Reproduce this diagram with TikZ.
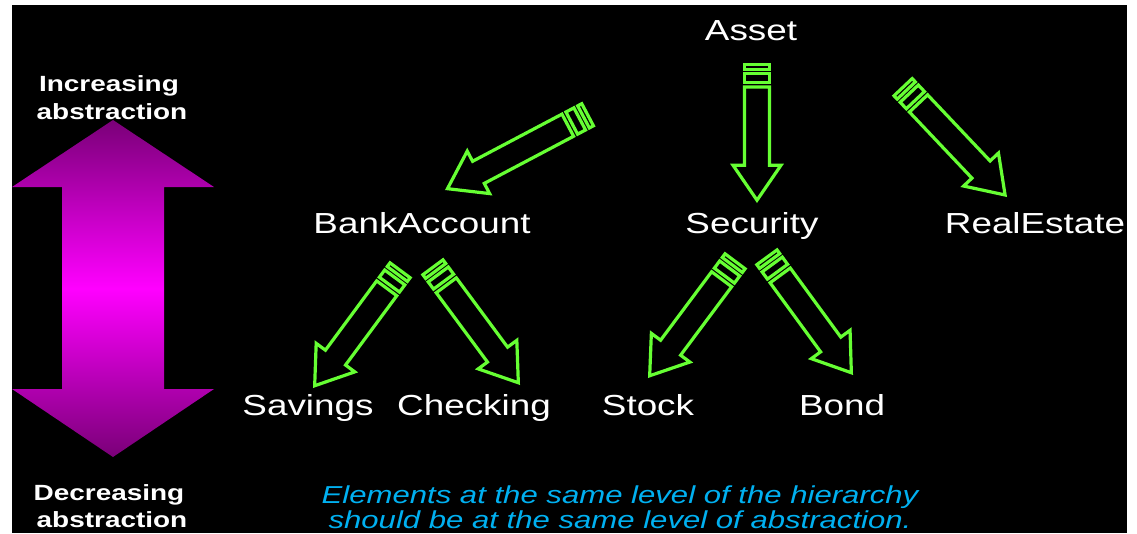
\documentclass[tikz,border=0pt]{standalone}
\usepackage{fontspec}
\setmainfont{Liberation Sans}[FakeStretch=1.27]
\usetikzlibrary{calc}
\definecolor{pgreen}{RGB}{102,255,51}
\definecolor{capcyan}{RGB}{0,176,240}
\definecolor{pdark}{RGB}{122,0,120}
\definecolor{pbright}{RGB}{255,0,255}
\tikzset{
  lbl/.style={text=white, font=\fontsize{29}{34}\selectfont, inner sep=0pt, anchor=base},
  sidelbl/.style={text=white, font=\bfseries\fontsize{22}{26}\selectfont, inner sep=0pt, anchor=base},
  capline/.style={text=capcyan, font=\itshape\fontsize{24.5}{27}\selectfont, inner sep=0pt, anchor=base},
  pencil/.style={draw=pgreen, line width=3.2pt, line join=miter},
}
\newcommand\pencilarrow[2]{%
  \pgfpointdiff{\pgfpointanchor{#1}{center}}{\pgfpointanchor{#2}{center}}%
  \pgfgetlastxy{\pdx}{\pdy}%
  \pgfmathsetmacro\plen{veclen(\pdx,\pdy)}%
  \pgfmathsetmacro\pang{atan2(\pdy,\pdx)}%
  \pgfmathsetmacro\ptip{\plen-2.8}%
  \pgfmathsetmacro\pbase{\plen-2.8-35}%
  \begin{scope}[shift={(#1)}, rotate=\pang, x=1pt, y=1pt]
    \draw[pencil] (1.6,-12.5) rectangle (6.2,12.5);
    \draw[pencil] (10.5,-12.5) rectangle (19.5,12.5);
    \draw[pencil] (24,-12.5) -- (\pbase,-12.5) -- (\pbase,-24) -- (\ptip,0)
      -- (\pbase,24) -- (\pbase,12.5) -- (24,12.5) -- cycle;
  \end{scope}}
\begin{document}
\begin{tikzpicture}[x=1pt, y=-1pt]
  \fill[white] (0,0) rectangle (1137,533);
  \useasboundingbox (0,0) rectangle (1137,533);
  \fill[black] (12,5) rectangle (1127,533);
  % double arrow
  \shade[top color=pdark, bottom color=pdark, middle color=pbright]
    (113,120) -- (214,187) -- (164,187) -- (164,389) -- (214,389) -- (113,457)
    -- (12,389) -- (62,389) -- (62,187) -- (12,187) -- cycle;
  % side labels
  \node[sidelbl] (inc1) at (109,91) {Increasing};
  \node[sidelbl] (inc2) at (112,119) {abstraction};
  \node[sidelbl] (dec1) at (109,500) {Decreasing};
  \node[sidelbl] (dec2) at (112,527) {abstraction};
  % class labels
  \node[lbl] (asset) at (751,40) {Asset};
  \node[lbl] (bank) at (422,233) {BankAccount};
  \node[lbl] (sec) at (752,233) {Security};
  \node[lbl] (real) at (1035,233) {RealEstate};
  \node[lbl] (sav) at (308,415) {Savings};
  \node[lbl] (chk) at (474,415) {Checking};
  \node[lbl] (stk) at (648,415) {Stock};
  \node[lbl] (bnd) at (842,415) {Bond};
  % caption
  \node[capline] (c1) at (620,503) {Elements at the same level of the hierarchy};
  \node[capline] (c2) at (620,528) {should be at the same level of abstraction.};
  % arrow end points
  \coordinate (t1) at (757,63);  \coordinate (h1) at (757,203);
  \coordinate (t2) at (589,114); \coordinate (h2) at (445,190);
  \coordinate (t3) at (902,86);  \coordinate (h3) at (1007,197);
  \coordinate (t4) at (401,269); \coordinate (h4) at (313,388);
  \coordinate (t5) at (432,266); \coordinate (h5) at (520,385);
  \coordinate (t6) at (736,260); \coordinate (h6) at (648,378);
  \coordinate (t7) at (766,256); \coordinate (h7) at (853,375);
  \pencilarrow{t1}{h1}
  \pencilarrow{t2}{h2}
  \pencilarrow{t3}{h3}
  \pencilarrow{t4}{h4}
  \pencilarrow{t5}{h5}
  \pencilarrow{t6}{h6}
  \pencilarrow{t7}{h7}
\end{tikzpicture}
\end{document}
